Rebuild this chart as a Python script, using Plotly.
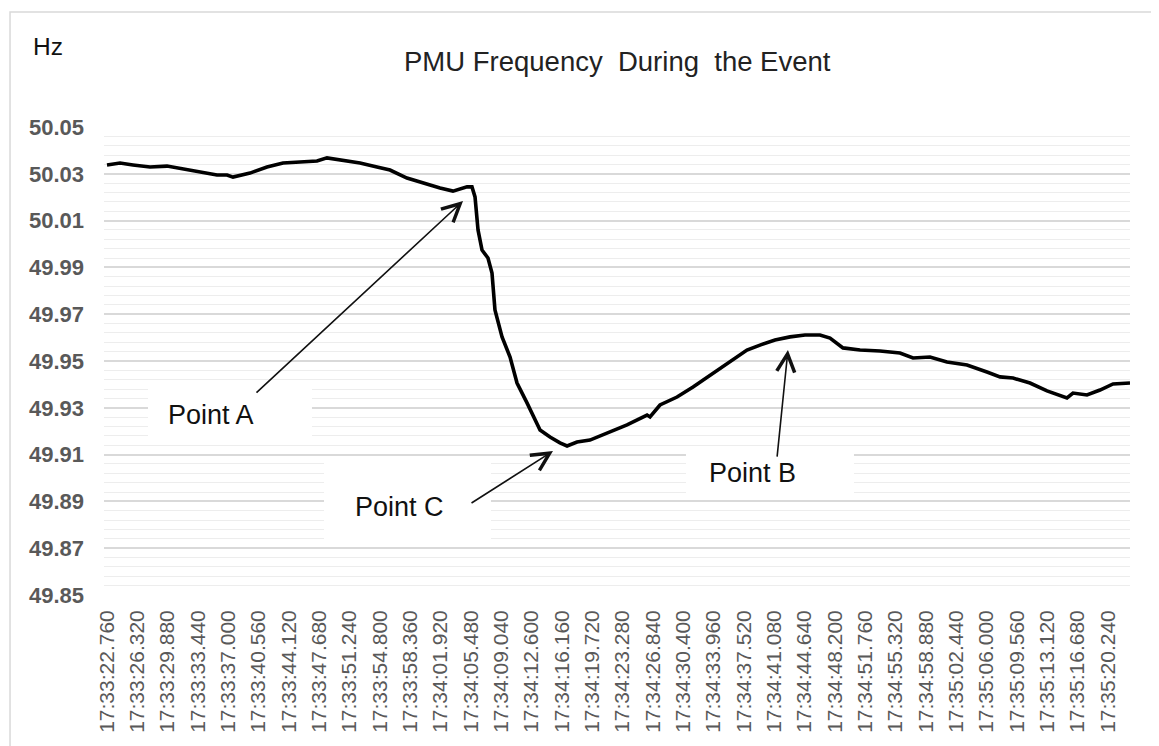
import plotly.graph_objects as go

# seconds after 17:33:22.760
time_s = [0.00, 1.53, 3.05, 5.05, 7.04, 8.92, 10.92, 12.91, 14.09, 14.79, 16.79, 18.78,
          20.66, 22.65, 24.65, 25.82, 27.35, 29.70, 31.69, 33.22, 35.21, 37.09, 39.09,
          40.61, 42.26, 42.84, 43.20, 43.55, 44.02, 44.72, 45.19, 45.54, 46.37, 47.31,
          48.13, 49.30, 50.83, 52.00, 53.17, 54.00, 55.17, 56.69, 57.87, 59.04, 61.04,
          63.39, 63.74, 64.91, 66.91, 68.79, 70.78, 72.78, 74.30, 75.12, 76.65, 78.41,
          80.17, 81.93, 83.69, 84.87, 86.39, 88.39, 90.74, 93.08, 94.61, 96.60, 98.60,
          100.95, 103.29, 104.82, 106.35, 108.34, 110.34, 112.68, 113.39, 115.03, 116.56,
          118.09, 120.08]

freq_hz = [50.0338, 50.0346, 50.0338, 50.0329, 50.0333, 50.0321, 50.0308, 50.0295, 50.0295,
           50.0286, 50.0303, 50.0329, 50.0346, 50.0350, 50.0355, 50.0368, 50.0359, 50.0346,
           50.0329, 50.0316, 50.0282, 50.0261, 50.0239, 50.0226, 50.0244, 50.0244, 50.0201,
           50.0060, 49.9974, 49.9940, 49.9876, 49.9718, 49.9603, 49.9517, 49.9406, 49.9321,
           49.9205, 49.9175, 49.9150, 49.9137, 49.9154, 49.9162, 49.9180, 49.9197, 49.9227,
           49.9269, 49.9261, 49.9312, 49.9346, 49.9389, 49.9440, 49.9491, 49.9526, 49.9547,
           49.9568, 49.9590, 49.9603, 49.9611, 49.9611, 49.9598, 49.9556, 49.9547, 49.9543,
           49.9534, 49.9513, 49.9517, 49.9496, 49.9483, 49.9453, 49.9432, 49.9427, 49.9406,
           49.9372, 49.9342, 49.9363, 49.9355, 49.9376, 49.9402, 49.9406]

tick_labels = ["17:33:22.760", "17:33:26.320", "17:33:29.880", "17:33:33.440", "17:33:37.000",
               "17:33:40.560", "17:33:44.120", "17:33:47.680", "17:33:51.240", "17:33:54.800",
               "17:33:58.360", "17:34:01.920", "17:34:05.480", "17:34:09.040", "17:34:12.600",
               "17:34:16.160", "17:34:19.720", "17:34:23.280", "17:34:26.840", "17:34:30.400",
               "17:34:33.960", "17:34:37.520", "17:34:41.080", "17:34:44.640", "17:34:48.200",
               "17:34:51.760", "17:34:55.320", "17:34:58.880", "17:35:02.440", "17:35:06.000",
               "17:35:09.560", "17:35:13.120", "17:35:16.680", "17:35:20.240"]
tick_step_s = 3.56
tick_pos = [i * tick_step_s for i in range(len(tick_labels))]

y_ticks = [49.85, 49.87, 49.89, 49.91, 49.93, 49.95, 49.97, 49.99, 50.01, 50.03, 50.05]

FONT = "Liberation Sans, Arial, sans-serif"

fig = go.Figure()
fig.add_trace(go.Scatter(x=time_s, y=freq_hz, mode="lines",
                         line=dict(color="black", width=3.6), showlegend=False,
                         hoverinfo="skip"))

# page body has an 8px margin, so the figure is 8px smaller and margins shifted
fig.update_layout(
    width=1151, height=738,
    margin=dict(l=96, r=29, t=119, b=151),
    paper_bgcolor="white", plot_bgcolor="white",
    xaxis=dict(range=[-0.352, 120.08], tickmode="array", tickvals=tick_pos,
               ticktext=tick_labels, tickangle=-90, showgrid=False, zeroline=False,
               showline=False, ticks="", ticklabelstandoff=10,
               tickfont=dict(family=FONT, size=21, color="#595959")),
    yaxis=dict(range=[49.85, 50.05], tickmode="array", tickvals=y_ticks,
               ticktext=[f"{v:.2f}" for v in y_ticks],
               showgrid=True, gridcolor="#d9d9d9", gridwidth=1.5, zeroline=False,
               showline=False, ticks="", ticklabelstandoff=19,
               minor=dict(tickmode="linear", tick0=49.85, dtick=0.004, showgrid=True,
                          gridcolor="#ededed", gridwidth=1),
               tickfont=dict(family=FONT, size=22, color="#595959", weight="bold")),
)

# outer chart border
fig.add_shape(type="rect", xref="paper", yref="paper", x0=-0.0916, x1=1.0244,
              y0=-0.45, y1=1.2457, line=dict(color="#d9d9d9", width=1.5), layer="below")

# white text boxes
boxes = [(4.81, 24.06, 49.9162, 49.9406), (25.47, 45.07, 49.8735, 49.9085),
         (67.96, 87.68, 49.8927, 49.9124)]
for x0, x1, y0, y1 in boxes:
    fig.add_shape(type="rect", xref="x", yref="y", x0=x0, x1=x1, y0=y0, y1=y1,
                  fillcolor="white", line=dict(width=0), layer="above")

# labels
labels = [("Point A", 12.21, 49.9269), ("Point C", 34.39, 49.8876), ("Point B", 75.71, 49.9021)]
for txt, x, y in labels:
    fig.add_annotation(x=x, y=y, xref="x", yref="y", text=txt, showarrow=False,
                       xanchor="center", yanchor="middle",
                       font=dict(family=FONT, size=27, color="#111111"))

# arrows (tip, tail)
arrows = [((41.79, 50.0184), (17.37, 49.9359)),
          ((52.35, 49.9115), (42.61, 49.8889)),
          ((79.93, 49.9547), (78.64, 49.9085))]
for (tx, ty), (ax, ay) in arrows:
    fig.add_annotation(x=tx, y=ty, ax=ax, ay=ay, xref="x", yref="y", axref="x", ayref="y",
                       text="", showarrow=True, arrowhead=5, arrowsize=2.2,
                       arrowwidth=1.6, arrowcolor="#111111", standoff=0, startstandoff=0)

# title and unit
fig.add_annotation(x=0.5, y=1.141, xref="paper", yref="paper", xanchor="center",
                   yanchor="middle", text="PMU Frequency  During  the Event", showarrow=False,
                   font=dict(family=FONT, size=27.5, color="#222222"))
fig.add_annotation(x=-0.0546, y=1.171, xref="paper", yref="paper", xanchor="center",
                   yanchor="middle", text="Hz",
                   showarrow=False, font=dict(family=FONT, size=24.5, color="#111111"))

fig.write_html("out.html")
